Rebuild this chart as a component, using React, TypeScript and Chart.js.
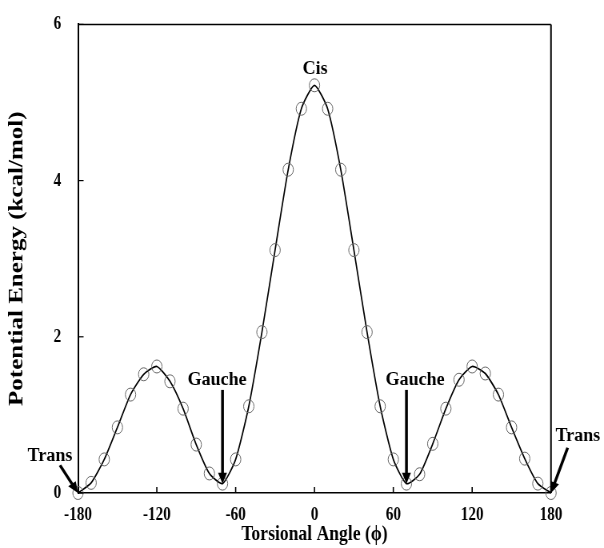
import React, { useEffect, useRef } from 'react';
import { Chart, registerables } from 'chart.js';

Chart.register(...registerables);

// ---- data ----
const angles = [
  -180, -170, -160, -150, -140, -130, -120, -110, -100, -90, -80, -70, -60, -50, -40, -30, -20, -10,
  0, 10, 20, 30, 40, 50, 60, 70, 80, 90, 100, 110, 120, 130, 140, 150, 160, 170, 180,
];
const energies = [
  0.0, 0.13, 0.43, 0.84, 1.26, 1.52, 1.62, 1.43, 1.08, 0.62, 0.25, 0.12, 0.43, 1.11, 2.06, 3.11, 4.14, 4.92,
  5.22, 4.92, 4.14, 3.11, 2.06, 1.11, 0.43, 0.12, 0.24, 0.63, 1.08, 1.45, 1.62, 1.53, 1.26, 0.84, 0.44, 0.12, 0.0,
];
const xTickValues = [-180, -120, -60, 0, 60, 120, 180];
const xTickLabels = ['-180', '-120', '-60', '0', '60', '120', '180'];
const yTickValues = [0, 2, 4, 6];
const yTickLabels = ['0', '2', '4', '6'];
const xAxisTitle = 'Torsional Angle (\u03D5)';
const yAxisTitle = 'Potential Energy (kcal/mol)';

// annotation labels (anchored in data units)
const labelTexts = ['Cis', 'Gauche', 'Gauche', 'Trans', 'Trans'];
const labelAngles = [0.4, -74.2, 76.5, -201.3, 200.5];
const labelEnergies = [5.37, 1.38, 1.38, 0.41, 0.67];
// arrows (data units)
const arrowFromAngles = [-70, 70, -193.7, 192.7];
const arrowFromEnergies = [1.32, 1.32, 0.355, 0.58];
const arrowToAngles = [-70, 70, -180, 180];
const arrowToEnergies = [0.12, 0.12, 0.0, 0.0];

// the reference is horizontally compressed; draw wide and squeeze with CSS
const SX = 0.8;
const OUT_W = 604;
const OUT_H = 548;
const W = OUT_W / SX;
const FONT = '"Liberation Serif", "Times New Roman", serif';

const decorPlugin = {
  id: 'decor',
  afterDraw(chart: any) {
    const { ctx, chartArea: a, scales } = chart;
    const xs = scales.x;
    const ys = scales.y;
    ctx.save();
    ctx.strokeStyle = '#000';
    // top and right frame
    ctx.lineWidth = 1.5;
    ctx.beginPath();
    ctx.moveTo(a.left, a.top);
    ctx.lineTo(a.right, a.top);
    ctx.stroke();
    ctx.lineWidth = 2;
    ctx.beginPath();
    ctx.moveTo(a.right, a.top);
    ctx.lineTo(a.right, a.bottom);
    ctx.stroke();
    // inward tick marks
    ctx.lineWidth = 1.6;
    xs.ticks.forEach((t: any) => {
      const px = xs.getPixelForValue(t.value);
      ctx.beginPath();
      ctx.moveTo(px, a.bottom);
      ctx.lineTo(px, a.bottom - 6);
      ctx.stroke();
    });
    ctx.lineWidth = 1.2;
    ys.ticks.forEach((t: any) => {
      const py = ys.getPixelForValue(t.value);
      ctx.beginPath();
      ctx.moveTo(a.left, py);
      ctx.lineTo(a.left + 7, py);
      ctx.stroke();
    });

    // annotations drawn in un-squeezed space
    ctx.scale(1 / SX, 1);
    ctx.fillStyle = '#000';
    ctx.font = `bold 18px ${FONT}`;
    ctx.textAlign = 'center';
    ctx.textBaseline = 'alphabetic';
    labelTexts.forEach((t, i) => {
      ctx.fillText(t, xs.getPixelForValue(labelAngles[i]) * SX, ys.getPixelForValue(labelEnergies[i]));
    });
    ctx.lineWidth = 2.8;
    ctx.lineCap = 'butt';
    arrowFromAngles.forEach((_, i) => {
      const x1 = xs.getPixelForValue(arrowFromAngles[i]) * SX;
      const y1 = ys.getPixelForValue(arrowFromEnergies[i]);
      const x2 = xs.getPixelForValue(arrowToAngles[i]) * SX;
      const y2 = ys.getPixelForValue(arrowToEnergies[i]);
      const ang = Math.atan2(y2 - y1, x2 - x1);
      const headLen = 11;
      const headW = 4.5;
      const c = Math.cos(ang);
      const s = Math.sin(ang);
      const bx = x2 - headLen * c;
      const by = y2 - headLen * s;
      ctx.beginPath();
      ctx.moveTo(x1, y1);
      ctx.lineTo(bx + c * 2, by + s * 2);
      ctx.stroke();
      ctx.beginPath();
      ctx.moveTo(x2, y2);
      ctx.lineTo(bx - headW * s, by + headW * c);
      ctx.lineTo(bx + headW * s, by - headW * c);
      ctx.closePath();
      ctx.fill();
    });
    ctx.restore();
  },
};

export default function App() {
  const ref = useRef<HTMLCanvasElement | null>(null);

  useEffect(() => {
    document.body.style.margin = '0';
    document.body.style.overflow = 'hidden';
    const canvas = ref.current;
    if (!canvas) return;
    const chart = new Chart(canvas, {
      type: 'line',
      data: {
        datasets: [
          {
            data: angles.map((a, i) => ({ x: a, y: energies[i] })),
            borderColor: '#000',
            borderWidth: 1.7,
            tension: 0.2,
            fill: false,
            pointStyle: 'circle',
            pointRadius: 6.5,
            pointBorderColor: '#666',
            pointBorderWidth: 1,
            pointBackgroundColor: 'rgba(0,0,0,0)',
            clip: false,
          } as any,
        ],
      },
      options: {
        responsive: false,
        animation: false,
        devicePixelRatio: 1,
        layout: { padding: { top: 20, right: W - 688.75, bottom: 0, left: 0 } },
        plugins: {
          legend: { display: false },
          tooltip: { enabled: false },
        },
        scales: {
          x: {
            type: 'linear',
            min: -180,
            max: 180,
            afterFit: (s: any) => {
              s.height = 55;
            },
            afterBuildTicks: (s: any) => {
              s.ticks = xTickValues.map((v) => ({ value: v }));
            },
            ticks: {
              color: '#000',
              padding: 3,
              maxRotation: 0,
              autoSkip: false,
              font: { family: FONT, size: 19, weight: 'bold' },
              callback: (v: any) => {
                const i = xTickValues.indexOf(Number(v));
                return i >= 0 ? xTickLabels[i] : '';
              },
            },
            grid: { display: false },
            border: { display: true, color: '#000', width: 1.6 },
            title: {
              display: true,
              text: xAxisTitle,
              color: '#000',
              font: { family: FONT, size: 22, weight: 'bold' },
              padding: { top: 0, bottom: 0 },
            },
          },
          y: {
            type: 'linear',
            min: 0,
            max: 6,
            afterFit: (s: any) => {
              s.width = 97.5;
            },
            afterBuildTicks: (s: any) => {
              s.ticks = yTickValues.map((v) => ({ value: v }));
            },
            ticks: {
              color: '#000',
              padding: 13,
              autoSkip: false,
              font: { family: FONT, size: 19, weight: 'bold' },
              callback: (v: any) => {
                const i = yTickValues.indexOf(Number(v));
                return i >= 0 ? yTickLabels[i] : '';
              },
            },
            grid: { display: false },
            border: { display: true, color: '#000', width: 2 },
            title: {
              display: true,
              text: yAxisTitle,
              color: '#000',
              font: { family: FONT, size: 25, weight: 'bold' },
              padding: { top: 7, bottom: 0 },
            },
          },
        },
      } as any,
      plugins: [decorPlugin],
    });
    return () => chart.destroy();
  }, []);

  return (
    <div style={{ width: OUT_W, height: OUT_H, background: '#fff' }}>
      <canvas
        ref={ref}
        width={W}
        height={OUT_H}
        style={{ display: 'block', width: `${OUT_W}px`, height: `${OUT_H}px` }}
      />
    </div>
  );
}
